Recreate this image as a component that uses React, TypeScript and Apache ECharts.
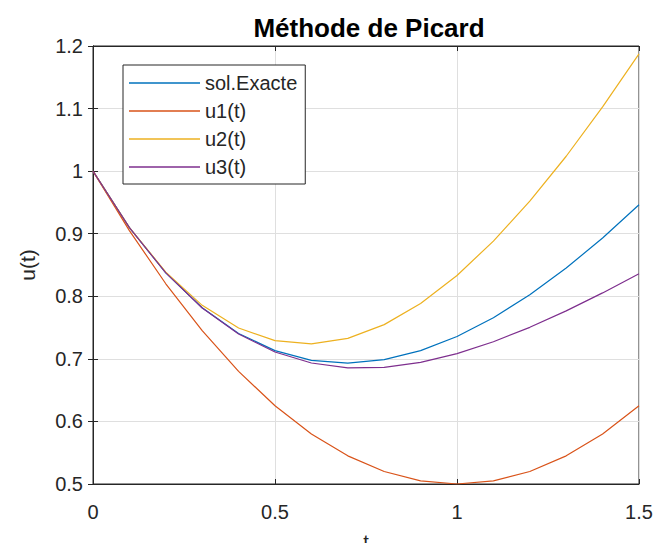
import React, { useEffect, useRef } from "react";
import * as echarts from "echarts";

const tValues = [0, 0.1, 0.2, 0.3, 0.4, 0.5, 0.6, 0.7, 0.8, 0.9, 1.0, 1.1, 1.2, 1.3, 1.4, 1.5];
const solExacte = [1.0, 0.9097, 0.8375, 0.7816, 0.7406, 0.7131, 0.6976, 0.6932, 0.6987, 0.7131, 0.7358, 0.7657, 0.8024, 0.8451, 0.8932, 0.9463];
const u1 = [1.0, 0.905, 0.82, 0.745, 0.68, 0.625, 0.58, 0.545, 0.52, 0.505, 0.5, 0.505, 0.52, 0.545, 0.58, 0.625];
const u2 = [1.0, 0.9098, 0.8387, 0.7855, 0.7493, 0.7292, 0.724, 0.7328, 0.7547, 0.7885, 0.8333, 0.8882, 0.952, 1.0238, 1.1027, 1.1875];
const u3 = [1.0, 0.9097, 0.8374, 0.7813, 0.7397, 0.7109, 0.6934, 0.6857, 0.6864, 0.6943, 0.7083, 0.7273, 0.7504, 0.7767, 0.8054, 0.8359];

const seriesNames = ["sol.Exacte", "u1(t)", "u2(t)", "u3(t)"];
const seriesData = [solExacte, u1, u2, u3];
const seriesColors = ["#0072BD", "#D95319", "#EDB120", "#7E2F8E"];

const FONT = "'Liberation Sans', Arial, Helvetica, sans-serif";
const AX = "#262626";

const fmt = (v: number) => String(Number(v.toFixed(2)));

export default function App() {
  const ref = useRef<HTMLDivElement>(null);
  useEffect(() => {
    if (!ref.current) return;
    const chart = echarts.init(ref.current, undefined, { renderer: "svg" });
    const tickCommon = { show: true, inside: true, length: 5, lineStyle: { color: AX, width: 1 } };
    chart.setOption({
      animation: false,
      backgroundColor: "#ffffff",
      textStyle: { fontFamily: FONT },
      title: {
        text: "Méthode de Picard",
        left: 364,
        top: 10,
        textAlign: "center",
        textStyle: { fontFamily: FONT, fontSize: 26, fontWeight: "bold", color: "#000000" },
      },
      grid: {
        left: 93,
        right: 18,
        top: 46,
        bottom: 59,
        containLabel: false,
        outerBoundsMode: "none",
        show: true,
        borderColor: AX,
        borderWidth: 1,
        backgroundColor: "#ffffff",
      },
      legend: {
        orient: "vertical",
        left: 123,
        top: 65,
        data: seriesNames,
        icon: "rect",
        backgroundColor: "#ffffff",
        borderColor: AX,
        borderWidth: 1,
        borderRadius: 0,
        padding: [8, 8, 7, 6],
        itemWidth: 71,
        itemHeight: 1.5,
        itemGap: 8,
        textStyle: { fontFamily: FONT, fontSize: 20, color: AX },
      },
      xAxis: [
        {
          type: "value",
          min: 0,
          max: 1.5,
          interval: 0.5,
          name: "t",
          nameLocation: "middle",
          nameGap: 48,
          nameTextStyle: { fontFamily: FONT, fontSize: 20, color: AX },
          axisLine: { show: true, lineStyle: { color: AX } },
          axisTick: tickCommon,
          axisLabel: { margin: 18, fontSize: 20, color: AX, fontFamily: FONT, formatter: fmt },
          splitLine: { show: true, lineStyle: { color: "#dfdfdf", width: 1 } },
        },
        {
          type: "value",
          position: "top",
          min: 0,
          max: 1.5,
          interval: 0.5,
          axisLine: { show: true, lineStyle: { color: AX } },
          axisTick: tickCommon,
          axisLabel: { show: false },
          splitLine: { show: false },
        },
      ],
      yAxis: [
        {
          type: "value",
          min: 0.5,
          max: 1.2,
          interval: 0.1,
          name: "u(t)",
          nameLocation: "middle",
          nameGap: 55,
          nameTextStyle: { fontFamily: FONT, fontSize: 21, color: AX },
          axisLine: { show: true, lineStyle: { color: AX } },
          axisTick: tickCommon,
          axisLabel: { margin: 10, fontSize: 20, color: AX, fontFamily: FONT, formatter: fmt },
          splitLine: { show: true, lineStyle: { color: "#dfdfdf", width: 1 } },
        },
        {
          type: "value",
          position: "right",
          min: 0.5,
          max: 1.2,
          interval: 0.1,
          axisLine: { show: true, lineStyle: { color: AX } },
          axisTick: tickCommon,
          axisLabel: { show: false },
          splitLine: { show: false },
        },
      ],
      series: seriesNames.map((name, i) => ({
        name,
        type: "line",
        xAxisIndex: 0,
        yAxisIndex: 0,
        data: tValues.map((t, j) => [t, seriesData[i][j]]),
        symbol: "none",
        smooth: false,
        color: seriesColors[i],
        itemStyle: { color: seriesColors[i] },
        lineStyle: { color: seriesColors[i], width: 1.2 },
      })),
    });
    return () => chart.dispose();
  }, []);
  return (
    <div
      ref={ref}
      style={{ position: "fixed", left: 0, top: 0, width: 657, height: 543 }}
    />
  );
}
